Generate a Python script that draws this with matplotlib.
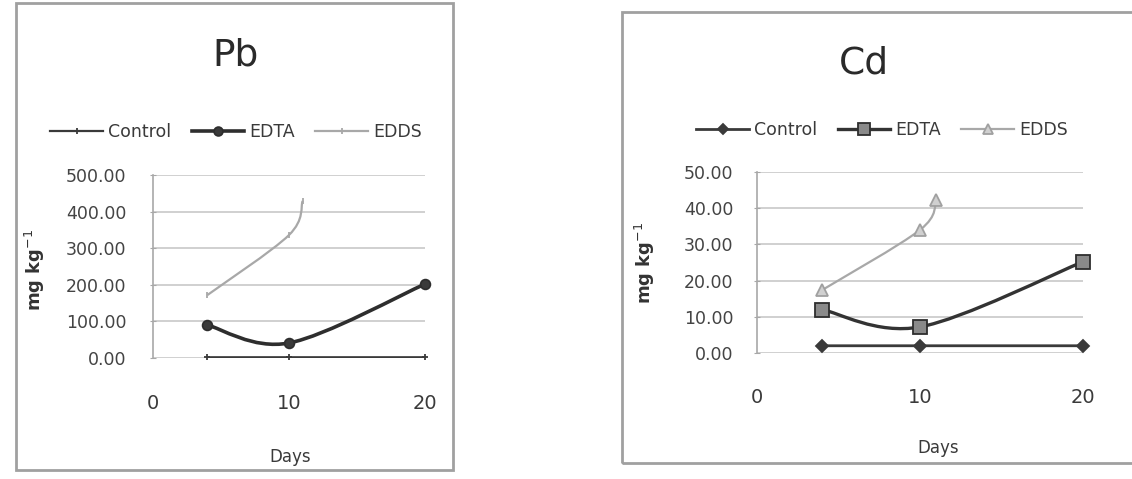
import matplotlib
matplotlib.use("Agg")
import matplotlib.pyplot as plt
from matplotlib.path import Path
from matplotlib.patches import PathPatch, Rectangle
from matplotlib.lines import Line2D

# Data
series_names = ["Control", "EDTA", "EDDS"]
days_main = [4, 10, 20]
days_edds = [4, 10, 11]

pb_control = [2, 2, 2]
pb_edta = [90, 41, 202]
pb_edds = [172, 336, 429]

cd_control = [2, 2, 2]
cd_edta = [12, 7.2, 25.2]
cd_edds = [17.4, 34, 42.3]

pb_yticks = [0, 100, 200, 300, 400, 500]
cd_yticks = [0, 10, 20, 30, 40, 50]
xticks = [0, 10, 20]


def smooth_path(xs, ys):
    # Excel-style smoothed line: cubic bezier through each point
    pts = list(zip(xs, ys))
    verts = [pts[0]]
    codes = [Path.MOVETO]
    n = len(pts)
    for i in range(n - 1):
        p0 = pts[max(i - 1, 0)]
        p1 = pts[i]
        p2 = pts[i + 1]
        p3 = pts[min(i + 2, n - 1)]
        c1 = (p1[0] + (p2[0] - p0[0]) / 6, p1[1] + (p2[1] - p0[1]) / 6)
        c2 = (p2[0] - (p3[0] - p1[0]) / 6, p2[1] - (p3[1] - p1[1]) / 6)
        verts += [c1, c2, p2]
        codes += [Path.CURVE4] * 3
    return Path(verts, codes)


styles = {
    "Pb": [
        dict(color="#3a3a3a", lw=1.6, marker="+", ms=5, mfc="#3a3a3a", mec="#3a3a3a"),
        dict(color="#2e2e2e", lw=2.6, marker="o", ms=7, mfc="#3a3a3a", mec="#2e2e2e"),
        dict(color="#a8a8a8", lw=1.6, marker="|", ms=5, mfc="#a8a8a8", mec="#a8a8a8"),
    ],
    "Cd": [
        dict(color="#3a3a3a", lw=2.0, marker="D", ms=6, mfc="#3a3a3a", mec="#3a3a3a"),
        dict(color="#333333", lw=2.4, marker="s", ms=10, mfc="#8a8a8a", mec="#2e2e2e"),
        dict(color="#a8a8a8", lw=1.6, marker="^", ms=8, mfc="#d0d0d0", mec="#a0a0a0"),
    ],
}

fig = plt.figure(figsize=(11.32, 4.79), dpi=100)
W, H = 1132, 479

# frames around each chart
fig.patches.append(Rectangle((16 / W, 1 - 470 / H), 437 / W, 467 / H, transform=fig.transFigure,
                             fill=False, edgecolor="#a0a0a0", lw=2))
fig.patches.append(Rectangle((622 / W, 1 - 463 / H), 518 / W, 451 / H, transform=fig.transFigure,
                             fill=False, edgecolor="#a0a0a0", lw=2))

panels = [
    dict(name="Pb", box=(153, 175, 425, 358), series=[pb_control, pb_edta, pb_edds],
         yticks=pb_yticks, title_xy=(236, 55), legend_xy=(236, 132),
         ylab_xy=(35, 270), xlab_xy=(290, 457), xpad=26, ypad=17),
    dict(name="Cd", box=(757, 172, 1083, 353), series=[cd_control, cd_edta, cd_edds],
         yticks=cd_yticks, title_xy=(864, 64), legend_xy=(882, 130),
         ylab_xy=(645, 263), xlab_xy=(938, 448), xpad=25, ypad=15),
]

for p in panels:
    x0, y0, x1, y1 = p["box"]
    ax = fig.add_axes([x0 / W, 1 - y1 / H, (x1 - x0) / W, (y1 - y0) / H])
    ax.set_xlim(0, 20)
    ax.set_ylim(p["yticks"][0], p["yticks"][-1])
    ax.set_yticks(p["yticks"])
    ax.set_yticklabels([f"{v:.2f}" for v in p["yticks"]])
    ax.set_xticks(xticks)
    ax.set_xticklabels([str(v) for v in xticks])
    ax.grid(axis="y", color="#c8c8c8", lw=1.2)
    ax.set_axisbelow(True)
    for s in ["top", "right", "bottom"]:
        ax.spines[s].set_visible(False)
    ax.spines["left"].set_color("#a8a8a8")
    ax.spines["left"].set_linewidth(1.2)
    ax.tick_params(axis="x", length=0, pad=p["xpad"], labelsize=14, labelcolor="#3a3a3a")
    ax.tick_params(axis="y", length=4, direction="inout", color="#a8a8a8", pad=p["ypad"],
                   labelsize=12.5, labelcolor="#444444")
    ax.patch.set_alpha(0)

    handles = []
    for i, (name, vals) in enumerate(zip(series_names, p["series"])):
        st = styles[p["name"]][i]
        xs = days_edds if name == "EDDS" else days_main
        ax.add_patch(PathPatch(smooth_path(xs, vals), facecolor="none",
                               edgecolor=st["color"], lw=st["lw"], zorder=3 + i))
        ax.plot(xs, vals, linestyle="none", marker=st["marker"], ms=st["ms"],
                mfc=st["mfc"], mec=st["mec"], mew=1.3, zorder=6 + i, clip_on=False)
        handles.append(Line2D([], [], color=st["color"], lw=st["lw"], marker=st["marker"],
                              ms=st["ms"] * 0.9, mfc=st["mfc"], mec=st["mec"], mew=1.3))

    fig.legend(handles, series_names, loc="center",
               bbox_to_anchor=(p["legend_xy"][0] / W, 1 - p["legend_xy"][1] / H),
               ncol=3, frameon=False, fontsize=12.5, handlelength=3.0,
               handletextpad=0.3, columnspacing=1.2, labelcolor="#3a3a3a")

    fig.text(p["title_xy"][0] / W, 1 - p["title_xy"][1] / H, p["name"], ha="center",
             va="center", fontsize=27, color="#2a2a2a")
    fig.text(p["ylab_xy"][0] / W, 1 - p["ylab_xy"][1] / H, "mg kg$^{-1}$", rotation=90,
             ha="center", va="center", fontsize=13, fontweight="bold", color="#333333")
    fig.text(p["xlab_xy"][0] / W, 1 - p["xlab_xy"][1] / H, "Days", ha="center",
             va="center", fontsize=12, color="#3a3a3a")

fig.savefig("out.png", dpi=100)
